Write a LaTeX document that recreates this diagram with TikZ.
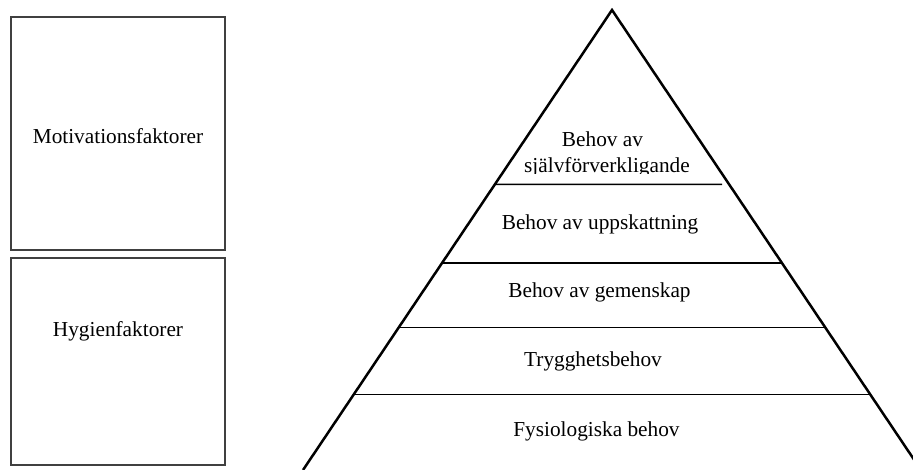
\documentclass[tikz,border=0pt]{standalone}
\usepackage{fontspec}
\setmainfont{Liberation Serif}
\usetikzlibrary{calc}
\begin{document}
\begin{tikzpicture}[x=1pt,y=-1pt,
  lbl/.style={anchor=base,inner sep=0pt,font=\fontsize{21.3}{26}\selectfont},
  sidebox/.style={draw=black!75,line width=2pt,inner sep=0pt},
  pyredge/.style={line width=2.5pt,line join=miter},
  tier/.style={line width=1.5pt}]
\useasboundingbox (0,0) rectangle (913,470);
\clip (0,0) rectangle (913,470);
% left boxes
\node[sidebox,minimum width=214pt,minimum height=233pt] (mbox) at (118,133.5) {};
\node[sidebox,minimum width=214pt,minimum height=207pt] (hbox) at (118,361.5) {};
\node[lbl] (mtxt) at (118,144) {Motivationsfaktorer};
\node[lbl] (htxt) at (118,337) {Hygienfaktorer};
% pyramid
\coordinate (apex) at (612,10);
\coordinate (bl) at (303,470);
\coordinate (br) at (921,470);
\draw[pyredge] (bl) -- (apex) -- (br);
\foreach \n/\yy in {a/184.5,b/263,c/327.5,d/394.5}{
  \coordinate (l\n) at ($(apex)!{(\yy-10)/460}!(bl)$);
  \coordinate (r\n) at ($(apex)!{(\yy-10)/460}!(br)$);
}
\draw[tier] (la) -- ($(la)!0.97!(ra)$);
\draw[tier] (lb) -- (rb);
\draw[tier] (lc) -- (rc);
\draw[tier] (ld) -- (rd);
% labels
\node[lbl] (t1a) at (602.5,146.5) {Behov av};
\begin{scope}
  \clip (480,100) rectangle (740,174);
  \node[lbl] (t1b) at (607,172.5) {självförverkligande};
\end{scope}
\node[lbl] (t2) at (600,230) {Behov av uppskattning};
\node[lbl] (t3) at (599.5,298) {Behov av gemenskap};
\node[lbl] (t4) at (593,366.5) {Trygghetsbehov};
\node[lbl] (t5) at (596.5,436.5) {Fysiologiska behov};
\end{tikzpicture}
\end{document}
